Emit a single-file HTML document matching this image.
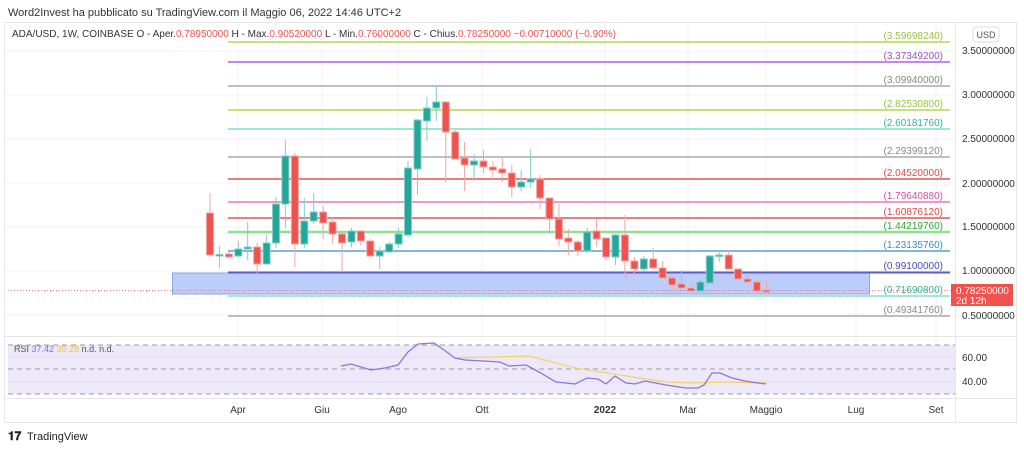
<!DOCTYPE html>
<html><head><meta charset="utf-8"><style>
body{margin:0;background:#fff;width:1024px;height:450px;overflow:hidden;font-family:"Liberation Sans",sans-serif}
svg text{font-family:"Liberation Sans",sans-serif}
</style></head><body>
<svg width="1024" height="450" xmlns="http://www.w3.org/2000/svg">
<text x="8" y="16" font-size="11" fill="#333">Word2Invest ha pubblicato su TradingView.com il Maggio 06, 2022 14:46 UTC+2</text>
<rect x="4.5" y="22.5" width="1012" height="400" fill="none" stroke="#e6e6e6"/>
<line x1="955.5" y1="22" x2="955.5" y2="422" stroke="#e6e6e6"/>
<line x1="4" y1="336.5" x2="1016" y2="336.5" stroke="#e6e6e6"/>
<line x1="4" y1="398.5" x2="1016" y2="398.5" stroke="#e6e6e6"/>
<!-- vertical grid -->
<g stroke="#f2f2f4">
<line x1="238" y1="22" x2="238" y2="398"/><line x1="322" y1="22" x2="322" y2="398"/><line x1="398" y1="22" x2="398" y2="398"/><line x1="482" y1="22" x2="482" y2="398"/><line x1="605" y1="22" x2="605" y2="398"/><line x1="688" y1="22" x2="688" y2="398"/><line x1="766" y1="22" x2="766" y2="398"/><line x1="856" y1="22" x2="856" y2="398"/><line x1="936" y1="22" x2="936" y2="398"/>
</g>
<g stroke="#f3f3f5"><line x1="4" y1="51" x2="955" y2="51"/><line x1="4" y1="95" x2="955" y2="95"/><line x1="4" y1="139" x2="955" y2="139"/><line x1="4" y1="183" x2="955" y2="183"/><line x1="4" y1="227" x2="955" y2="227"/><line x1="4" y1="271" x2="955" y2="271"/><line x1="4" y1="315" x2="955" y2="315"/></g>
<text x="12" y="37" font-size="10" fill="#333">ADA/USD, 1W, COINBASE  O - Aper.<tspan fill="#ef5350">0.78950000</tspan>  H - Max.<tspan fill="#ef5350">0.90520000</tspan>  L - Min.<tspan fill="#ef5350">0.76000000</tspan>  C - Chius.<tspan fill="#ef5350">0.78250000  −0.00710000 (−0.90%)</tspan></text>
<!-- levels -->
<g stroke-width="1.5">
<line x1="228" y1="42" x2="950" y2="42" stroke="#b5d94a"/>
<line x1="228" y1="62" x2="950" y2="62" stroke="#b35ee0"/>
<line x1="228" y1="86" x2="950" y2="86" stroke="#aaaaaa"/>
<line x1="228" y1="110" x2="950" y2="110" stroke="#b5d94a"/>
<line x1="228" y1="129" x2="950" y2="129" stroke="#7fe0c4"/>
<line x1="228" y1="157" x2="950" y2="157" stroke="#aaaaaa"/>
<line x1="228" y1="179" x2="950" y2="179" stroke="#e05555"/>
<line x1="228" y1="202" x2="950" y2="202" stroke="#e07bbf"/>
<line x1="228" y1="218" x2="950" y2="218" stroke="#e05555"/>
<line x1="228" y1="232" x2="950" y2="232" stroke="#8fe08f" stroke-width="2.5"/>
<line x1="228" y1="251" x2="950" y2="251" stroke="#5b9fd0"/>
<line x1="228" y1="316" x2="950" y2="316" stroke="#aaaaaa"/>
</g>
<rect x="172.5" y="273" width="697" height="21" fill="#bccdfc" stroke="#8fa6dc"/>
<line x1="228" y1="272.5" x2="950" y2="272.5" stroke="#5c5cc8" stroke-width="2"/>
<line x1="228" y1="296" x2="950" y2="296" stroke="#a6e8d2" stroke-width="2"/>
<line x1="8" y1="290.5" x2="952" y2="290.5" stroke="#ef5350" stroke-dasharray="1,2" stroke-width="0.8"/>
<g font-size="10" text-anchor="end">
<text x="943" y="39" fill="#9cc43a">(3.59698240)</text>
<text x="943" y="59" fill="#a24ed0">(3.37349200)</text>
<text x="943" y="83" fill="#888">(3.09940000)</text>
<text x="943" y="107" fill="#9cc43a">(2.82530800)</text>
<text x="943" y="126" fill="#2cb890">(2.60181760)</text>
<text x="943" y="154" fill="#888">(2.29399120)</text>
<text x="943" y="176" fill="#e04848">(2.04520000)</text>
<text x="943" y="199" fill="#d0509f">(1.79640880)</text>
<text x="943" y="215" fill="#e04848">(1.60876120)</text>
<text x="943" y="229" fill="#2ea82e">(1.44219760)</text>
<text x="943" y="248" fill="#3c8cc8">(1.23135760)</text>
<text x="943" y="269" fill="#4a4ac0">(0.99100000)</text>
<text x="943" y="293" fill="#2cb890">(0.71690800)</text>
<text x="943" y="313" fill="#888">(0.49341760)</text>
</g>
<!-- candles -->
<g id="c">
<g stroke="#f2a6a4" fill="#ef5350">
<line x1="210" y1="193" x2="210" y2="257"/><rect x="206.5" y="213" width="7" height="42"/>
<line x1="228.9" y1="252" x2="228.9" y2="258"/><rect x="225.4" y="254" width="7" height="3"/>
<line x1="257.2" y1="243" x2="257.2" y2="273"/><rect x="253.7" y="247" width="7" height="17"/>
<line x1="294.9" y1="153" x2="294.9" y2="267"/><rect x="291.4" y="156" width="7" height="88"/>
<line x1="323.2" y1="206" x2="323.2" y2="239"/><rect x="319.7" y="212" width="7" height="11"/>
<line x1="332.6" y1="217" x2="332.6" y2="244"/><rect x="329.1" y="222" width="7" height="12"/>
<line x1="342" y1="233" x2="342" y2="272"/><rect x="338.5" y="234" width="7" height="9"/>
<line x1="360.9" y1="231" x2="360.9" y2="246"/><rect x="357.4" y="231" width="7" height="10"/>
<line x1="370.3" y1="239" x2="370.3" y2="257"/><rect x="366.8" y="241" width="7" height="15"/>
<line x1="445.8" y1="101" x2="445.8" y2="182"/><rect x="442.3" y="102" width="7" height="30"/>
<line x1="455.2" y1="130" x2="455.2" y2="159"/><rect x="451.7" y="132" width="7" height="27"/>
<line x1="464.6" y1="142" x2="464.6" y2="191"/><rect x="461.1" y="158" width="7" height="7"/>
<line x1="483.5" y1="150" x2="483.5" y2="173"/><rect x="480" y="161" width="7" height="6"/>
<line x1="492.9" y1="161" x2="492.9" y2="177"/><rect x="489.4" y="167" width="7" height="3"/>
<line x1="502.3" y1="157" x2="502.3" y2="182"/><rect x="498.8" y="169" width="7" height="4"/>
<line x1="511.8" y1="165" x2="511.8" y2="197"/><rect x="508.3" y="173" width="7" height="14"/>
<line x1="540.1" y1="175" x2="540.1" y2="209"/><rect x="536.6" y="179" width="7" height="19"/>
<line x1="549.5" y1="198" x2="549.5" y2="234"/><rect x="546" y="198" width="7" height="21"/>
<line x1="558.9" y1="204" x2="558.9" y2="246"/><rect x="555.4" y="219" width="7" height="20"/>
<line x1="568.3" y1="229" x2="568.3" y2="255"/><rect x="564.8" y="238" width="7" height="4"/>
<line x1="577.8" y1="240" x2="577.8" y2="256"/><rect x="574.3" y="242" width="7" height="9"/>
<line x1="596.6" y1="219" x2="596.6" y2="247"/><rect x="593.1" y="231" width="7" height="8"/>
<line x1="606.1" y1="238" x2="606.1" y2="260"/><rect x="602.6" y="238" width="7" height="19"/>
<line x1="624.9" y1="215" x2="624.9" y2="278"/><rect x="621.4" y="235" width="7" height="26"/>
<line x1="634.4" y1="257" x2="634.4" y2="276"/><rect x="630.9" y="261" width="7" height="8"/>
<line x1="653.2" y1="248" x2="653.2" y2="268"/><rect x="649.7" y="259" width="7" height="9"/>
<line x1="662.6" y1="261" x2="662.6" y2="278"/><rect x="659.1" y="268" width="7" height="10"/>
<line x1="672.1" y1="273" x2="672.1" y2="294"/><rect x="668.6" y="278" width="7" height="7"/>
<line x1="681.5" y1="270" x2="681.5" y2="288"/><rect x="678" y="284" width="7" height="4"/>
<line x1="690.9" y1="284" x2="690.9" y2="291"/><rect x="687.4" y="288" width="7" height="3"/>
<line x1="728.7" y1="250" x2="728.7" y2="269"/><rect x="725.2" y="255" width="7" height="14"/>
<line x1="738.1" y1="269" x2="738.1" y2="279"/><rect x="734.6" y="269" width="7" height="10"/>
<line x1="747.5" y1="273" x2="747.5" y2="282"/><rect x="744" y="279" width="7" height="3"/>
<line x1="756.9" y1="280" x2="756.9" y2="294"/><rect x="753.4" y="282" width="7" height="9"/>
<line x1="766.4" y1="280" x2="766.4" y2="292"/><rect x="762.9" y="290" width="7" height="2"/>
</g>
<g stroke="#7fcfc6" fill="#26a69a">
<line x1="219.4" y1="246" x2="219.4" y2="268"/><rect x="215.9" y="254.5" width="7" height="1.5"/>
<line x1="238.3" y1="241" x2="238.3" y2="257"/><rect x="234.8" y="249" width="7" height="7"/>
<line x1="247.7" y1="222" x2="247.7" y2="260"/><rect x="244.2" y="247" width="7" height="2"/>
<line x1="266.6" y1="235" x2="266.6" y2="264"/><rect x="263.1" y="243" width="7" height="21"/>
<line x1="276" y1="197" x2="276" y2="248"/><rect x="272.5" y="204" width="7" height="39"/>
<line x1="285.4" y1="140" x2="285.4" y2="228"/><rect x="281.9" y="156" width="7" height="48"/>
<line x1="304.3" y1="198" x2="304.3" y2="248"/><rect x="300.8" y="221" width="7" height="23"/>
<line x1="313.7" y1="193" x2="313.7" y2="224"/><rect x="310.2" y="212" width="7" height="9"/>
<line x1="351.5" y1="228" x2="351.5" y2="247"/><rect x="348" y="231" width="7" height="11"/>
<line x1="379.7" y1="247" x2="379.7" y2="269"/><rect x="376.2" y="251" width="7" height="5"/>
<line x1="389.2" y1="242" x2="389.2" y2="252"/><rect x="385.7" y="244" width="7" height="8"/>
<line x1="398.6" y1="228" x2="398.6" y2="248"/><rect x="395.1" y="234" width="7" height="10"/>
<line x1="408" y1="161" x2="408" y2="237"/><rect x="404.5" y="168" width="7" height="67"/>
<line x1="417.5" y1="119" x2="417.5" y2="195"/><rect x="414" y="120" width="7" height="49"/>
<line x1="426.9" y1="97" x2="426.9" y2="141"/><rect x="423.4" y="108" width="7" height="13"/>
<line x1="436.3" y1="86" x2="436.3" y2="121"/><rect x="432.8" y="102" width="7" height="6"/>
<line x1="474" y1="154" x2="474" y2="181"/><rect x="470.5" y="161" width="7" height="4"/>
<line x1="521.2" y1="170" x2="521.2" y2="191"/><rect x="517.7" y="182" width="7" height="5"/>
<line x1="530.6" y1="149" x2="530.6" y2="188"/><rect x="527.1" y="179" width="7" height="3"/>
<line x1="587.2" y1="228" x2="587.2" y2="253"/><rect x="583.7" y="232" width="7" height="19"/>
<line x1="615.5" y1="234" x2="615.5" y2="265"/><rect x="612" y="235" width="7" height="22"/>
<line x1="643.8" y1="256" x2="643.8" y2="271"/><rect x="640.3" y="259" width="7" height="10"/>
<line x1="700.4" y1="279" x2="700.4" y2="291"/><rect x="696.9" y="282" width="7" height="9"/>
<line x1="709.8" y1="255" x2="709.8" y2="283"/><rect x="706.3" y="256" width="7" height="27"/>
<line x1="719.2" y1="250" x2="719.2" y2="262"/><rect x="715.7" y="255" width="7" height="1.5"/>
</g>
</g>
<!-- price axis -->
<rect x="973" y="27" width="26" height="15" rx="3" fill="#fff" stroke="#ddd"/>
<text x="986" y="38" font-size="9" fill="#555" text-anchor="middle">USD</text>
<g font-size="10" fill="#333">
<text x="962" y="54">3.50000000</text><text x="962" y="98">3.00000000</text><text x="962" y="142">2.50000000</text><text x="962" y="187">2.00000000</text><text x="962" y="230">1.50000000</text><text x="962" y="274">1.00000000</text><text x="962" y="319">0.50000000</text>
</g>
<rect x="951" y="284" width="62" height="22" fill="#ef5350"/>
<text x="956" y="294" font-size="10" fill="#fff">0.78250000</text>
<text x="956" y="304" font-size="10" fill="#fff">2d 12h</text>
<!-- RSI pane -->
<rect x="8" y="345" width="947" height="49" fill="#ede9f8"/>
<line x1="8" y1="357" x2="955" y2="357" stroke="#e2ddf0"/><line x1="8" y1="382" x2="955" y2="382" stroke="#e2ddf0"/>
<g stroke="#9a9aa8" stroke-dasharray="5,4">
<line x1="8" y1="345" x2="955" y2="345"/><line x1="8" y1="369" x2="955" y2="369"/><line x1="8" y1="394" x2="955" y2="394"/>
</g>
<text x="14" y="352" font-size="9" fill="#555">RSI <tspan fill="#8a6fd0">37.42</tspan> <tspan fill="#e6c84a">39.28</tspan> n.d. n.d.</text>
<polyline fill="none" stroke="#f0d66a" stroke-width="1.3" points="457,358 529,356 575,368 620,375 666,382 692,383 725,382 766,383"/>
<polyline fill="none" stroke="#9075d8" stroke-width="1.3" points="341,366 351,364 371,370 385,368 398,365 408,352 418,344 434,343 444,350 455,358 465,360 483,361 500,362 509,366 526,365 539,372 556,382 575,384 587,378 598,379 606,384 615,376 626,383 635,384 645,381 666,385 686,388 698,388 704,385 712,373 720,373 732,378 745,381 758,383 766,384"/>
<g font-size="10" fill="#333"><text x="962" y="361">60.00</text><text x="962" y="385">40.00</text></g>
<!-- time axis -->
<g font-size="10" fill="#333" text-anchor="middle">
<text x="238" y="413">Apr</text><text x="322" y="413">Giu</text><text x="398" y="413">Ago</text><text x="482" y="413">Ott</text><text x="605" y="413" font-weight="bold">2022</text><text x="688" y="413">Mar</text><text x="766" y="413">Maggio</text><text x="856" y="413">Lug</text><text x="936" y="413">Set</text>
</g>
<text x="8" y="440" font-size="12" font-weight="bold" fill="#222">𝟏𝟕</text>
<text x="27" y="440" font-size="11" fill="#222">TradingView</text>
</svg>
</body></html>
